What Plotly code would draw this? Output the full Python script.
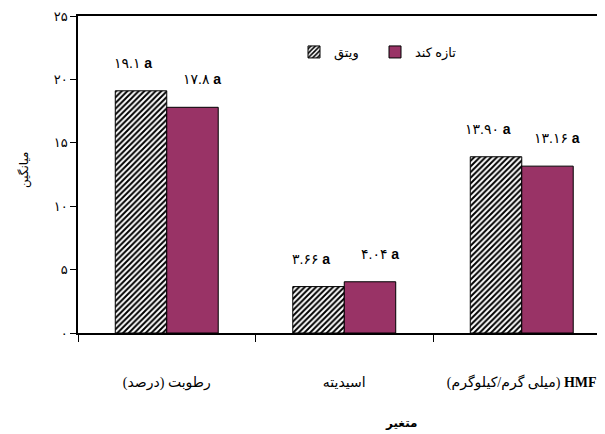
import plotly.graph_objects as go

# ---- data ----
categories = ["moisture", "acidity", "hmf"]
category_labels = [
    "رطوبت (درصد)",
    "اسیدیته",
    "(میلی گرم/کیلوگرم) <b>HMF</b>",
]
series_names = ["ویتق", "تازه کند"]
values_hatched = [19.1, 3.66, 13.90]
values_plum = [17.8, 4.04, 13.16]
label_decimals = [1, 2, 2]
letters_hatched = ["a", "a", "a"]
letters_plum = ["a", "a", "a"]
y_ticks = [0, 5, 10, 15, 20, 25]

FA = str.maketrans("0123456789", "۰۱۲۳۴۵۶۷۸۹")


def fa(s):
    return str(s).translate(FA)


OFF = 8  # page body margin
W, H = 605 - OFF, 434 - OFF
ML, MT, PH = 78 - OFF, 16 - OFF, 317
PW = W - ML
MB = H - MT - PH
BARGAP = 0.42
CAT_PX = 177.5


def px_x(sx):
    return (sx - OFF - ML) / PW


def px_y(sy):
    return (MT + PH - (sy - OFF)) / PH


PLUM = "#993366"
ARIAL = "Liberation Sans, DejaVu Sans, sans-serif"
SERIF = "Liberation Serif, DejaVu Sans, serif"

fig = go.Figure()
fig.add_trace(go.Bar(
    x=categories, y=values_hatched, name=series_names[0],
    marker=dict(color="white", line=dict(color="black", width=1),
                pattern=dict(shape="/", fgcolor="black", fgopacity=1,
                             bgcolor="white", size=4, solidity=0.5,
                             fillmode="overlay")),
))
fig.add_trace(go.Bar(
    x=categories, y=values_plum, name=series_names[1],
    marker=dict(color=PLUM, line=dict(color="black", width=1)),
))

annotations = []
half = (1 - BARGAP) / 4
for i, (vals, letters, dx) in enumerate([(values_hatched, letters_hatched, -8),
                                          (values_plum, letters_plum, 10)]):
    for j, v in enumerate(vals):
        txt = fa(f"{v:.{label_decimals[j]}f}") + " <b>" + letters[j] + "</b>"
        annotations.append(dict(
            x=j + (2 * i - 1) * half, y=v, xref="x", yref="y",
            text=txt, showarrow=False, xshift=dx, yshift=28,
            xanchor="center", yanchor="middle",
            font=dict(family=ARIAL, size=14, color="black"),
        ))

# axis titles
annotations.append(dict(
    x=px_x(24), y=px_y(170), xref="paper", yref="paper",
    xanchor="center", yanchor="middle",
    text="میانگین", textangle=-90, showarrow=False,
    font=dict(family=SERIF, size=12, color="black"),
))
annotations.append(dict(
    x=px_x(401), y=px_y(423), xref="paper", yref="paper",
    xanchor="center", yanchor="middle",
    text="<b>متغیر</b>", showarrow=False,
    font=dict(family=SERIF, size=12, color="black"),
))

fig.update_layout(
    width=W, height=H,
    margin=dict(l=ML, r=0, t=MT, b=MB, pad=0),
    paper_bgcolor="white", plot_bgcolor="white",
    barmode="group", bargap=BARGAP, bargroupgap=0,
    showlegend=True,
    legend=dict(orientation="h", x=px_x(294), y=px_y(52),
                xanchor="left", yanchor="middle",
                font=dict(family=SERIF, size=13, color="black"),
                entrywidth=36, entrywidthmode="pixels",
                bgcolor="rgba(0,0,0,0)", traceorder="normal"),
    annotations=annotations,
    font=dict(family=ARIAL, color="black"),
)
fig.update_xaxes(
    type="category", categoryorder="array", categoryarray=categories,
    tickvals=categories, ticktext=category_labels,
    range=[-0.5, -0.5 + PW / CAT_PX],
    showline=True, linecolor="black", linewidth=1.5, mirror=True,
    ticks="outside", ticklen=7, tickcolor="black", tickwidth=1,
    tickson="boundaries", ticklabelstandoff=35,
    tickfont=dict(family=SERIF, size=14, color="black"),
    showgrid=False, zeroline=False,
)
fig.update_yaxes(
    range=[0, 25], tickvals=y_ticks, ticktext=[fa(t) for t in y_ticks],
    showline=True, linecolor="black", linewidth=1.5, mirror=False,
    ticks="outside", ticklen=6, tickcolor="black", tickwidth=1,
    tickfont=dict(family=ARIAL, size=13, color="black"),
    showgrid=False, zeroline=False,
)

fig.write_html("out.html")
